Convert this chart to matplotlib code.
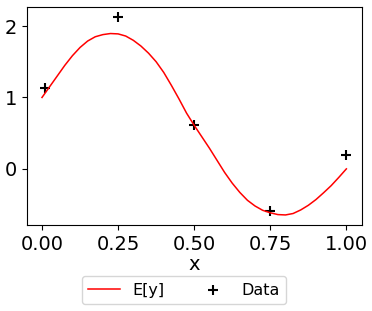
import matplotlib
matplotlib.use("Agg")
import matplotlib.pyplot as plt

# Mean curve
curve_x = [0.0, 0.025, 0.05, 0.075, 0.1, 0.125, 0.15, 0.175, 0.2, 0.225,
           0.25, 0.275, 0.3, 0.325, 0.35, 0.375, 0.4, 0.425, 0.45, 0.475,
           0.5, 0.525, 0.55, 0.575, 0.6, 0.625, 0.65, 0.675, 0.7, 0.725,
           0.75, 0.775, 0.8, 0.825, 0.85, 0.875, 0.9, 0.925, 0.95, 0.975, 1.0]
curve_y = [1.00, 1.15, 1.30, 1.45, 1.585, 1.70, 1.79, 1.85, 1.88, 1.895,
           1.89, 1.86, 1.80, 1.72, 1.62, 1.50, 1.35, 1.17, 0.98, 0.78,
           0.61, 0.45, 0.29, 0.12, -0.05, -0.20, -0.33, -0.44, -0.52, -0.58,
           -0.615, -0.64, -0.645, -0.625, -0.575, -0.51, -0.43, -0.335, -0.235, -0.12, 0.0]

# Observed points
data_x = [0.01, 0.25, 0.5, 0.75, 1.0]
data_y = [1.13, 2.13, 0.62, -0.59, 0.19]

fig = plt.figure(figsize=(3.72, 3.11), dpi=100)
ax = fig.add_axes([0.072, 0.277, 0.90, 0.701])

ax.plot(curve_x, curve_y, color="red", lw=1.1, label="E[y]")
ax.scatter(data_x, data_y, marker="+", color="black", s=45, linewidths=1.5, label="Data")

ax.set_xlabel("x", fontsize=14, labelpad=1)
ax.set_xticks([0.0, 0.25, 0.5, 0.75, 1.0])
ax.set_yticks([0, 1, 2])
ax.tick_params(labelsize=14)

fig.legend(loc="upper center", bbox_to_anchor=(184 / 372, 0.112), ncol=2,
           fontsize=11.5, columnspacing=2.0, borderaxespad=0)

fig.savefig("out.png", dpi=100)
